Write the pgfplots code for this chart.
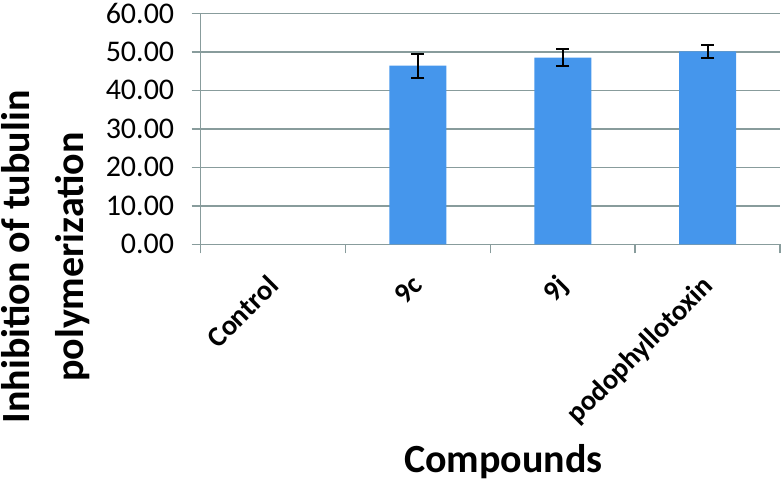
\documentclass[border=0pt]{standalone}
\usepackage{pgfplots}
\pgfplotsset{compat=1.18}
\usepackage{fontspec}
\setmainfont{Carlito}
\definecolor{barblue}{HTML}{4596EC}
\definecolor{gridgray}{HTML}{889C9C}

\begin{document}
\begin{tikzpicture}
\begin{axis}[
  scale only axis,
  width=579.3pt, height=231pt,
  xmin=-0.5, xmax=3.5,
  ymin=0, ymax=60,
  ytick={0,10,...,60},
  axis x line*=bottom, axis y line*=left,
  axis line style={gridgray, line width=1.5pt, -},
  ymajorgrids, grid style={gridgray, line width=1.5pt},
  tick align=outside,
  major tick length=9pt,
  tick style={gridgray, line width=1.5pt},
  xtick={-0.5,0.5,1.5,2.5,3.5},
  xticklabels={},
  extra x ticks={0,1,2,3},
  extra x tick labels={Control,9c,9j,podophyllotoxin},
  extra x tick style={major tick length=0pt, grid=none,
    tick label style={rotate=45, anchor=north east, inner sep=0pt,
      font=\bfseries\fontsize{28.5}{32}\selectfont, xshift=-25.5pt, yshift=-15.5pt}},
  yticklabel style={font=\fontsize{30}{34}\selectfont, xshift=-14pt,
    /pgf/number format/assume math mode=true},
  y tick label style={/pgf/number format/.cd, fixed, fixed zerofill, precision=2},
]
\addplot[ybar, bar width=57pt, fill=barblue, draw=none,
  error bars/.cd, y dir=both, y explicit,
  error bar style={black, line width=2pt},
  error mark options={rotate=90, mark size=6.5pt, line width=2pt, black}]
  coordinates {(1,46.4) +- (0,3.1) (2,48.5) +- (0,2.2) (3,50.1) +- (0,1.6)};
\end{axis}
\node[rotate=90, align=center, font=\bfseries\fontsize{40}{54}\selectfont]
  at (-155pt,-12.7pt) {Inhibition of tubulin\\polymerization};
\node[font=\bfseries\fontsize{40}{48}\selectfont] at (302.8pt,-217.7pt) {Compounds};
\pgfresetboundingbox
\useasboundingbox (-200.7pt,-245.7pt) rectangle (583.3pt,244.3pt);
\end{tikzpicture}
\end{document}
